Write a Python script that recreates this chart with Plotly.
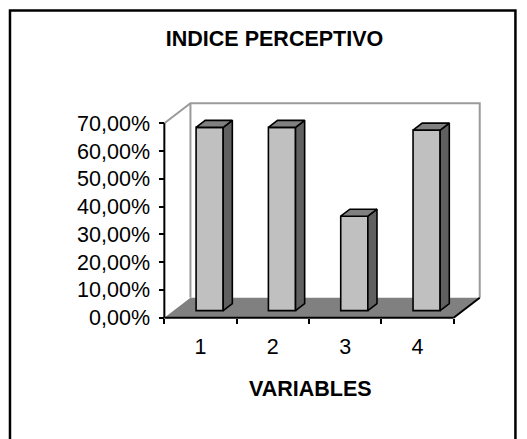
import plotly.graph_objects as go

# Data
categories = [1, 2, 3, 4]
tick_labels = ["1", "2", "3", "4"]
values = [0.66, 0.66, 0.34, 0.65]
y_ticks = [0.0, 0.1, 0.2, 0.3, 0.4, 0.5, 0.6, 0.7]

# Oblique 3-D look: depth offset of the back wall, in axis units
DEPTH_X = 0.361
DEPTH_Y = 0.072
Y_MAX = 0.7
X_LO, X_HI = 0.5, 4.5
BAR_W = 0.375
BAR_FRONT = 0.35   # fraction of depth where the bar front face sits
BAR_BACK = 0.70    # fraction of depth where the bar back face sits

FRONT = "#c0c0c0"
SIDE = "#606060"
TOP = "#808080"
FLOOR = "#808080"
WALL = "#9a9a9a"
FONT = "Liberation Sans"

xr = [0.44, 4.92]
yr = [-0.012, 0.78]
x_pos = (0 - yr[0]) / (yr[1] - yr[0])
y_pos = (X_LO - xr[0]) / (xr[1] - xr[0])

fig = go.Figure()

fx = BAR_FRONT * DEPTH_X
fy = BAR_FRONT * DEPTH_Y
dx = (BAR_BACK - BAR_FRONT) * DEPTH_X
dy = (BAR_BACK - BAR_FRONT) * DEPTH_Y

# Front faces of the bars
fig.add_trace(go.Bar(
    x=[c + fx for c in categories], y=values, base=fy, width=BAR_W,
    marker=dict(color=FRONT, line=dict(color="black", width=1.6)),
    hoverinfo="skip", showlegend=False,
))

# Side and top faces
for c, v in zip(categories, values):
    xl = c + fx - BAR_W / 2
    xr_ = c + fx + BAR_W / 2
    top = fy + v
    fig.add_trace(go.Scatter(
        x=[xr_, xr_ + dx, xr_ + dx, xr_, xr_],
        y=[fy, fy + dy, top + dy, top, fy],
        mode="lines", fill="toself", fillcolor=SIDE,
        line=dict(color="black", width=1.6), hoverinfo="skip", showlegend=False,
    ))
    fig.add_trace(go.Scatter(
        x=[xl, xr_, xr_ + dx, xl + dx, xl],
        y=[top, top, top + dy, top + dy, top],
        mode="lines", fill="toself", fillcolor=TOP,
        line=dict(color="black", width=1.6), hoverinfo="skip", showlegend=False,
    ))

shapes = []
# Floor
shapes.append(dict(
    type="path", xref="x", yref="y", layer="below",
    path=f"M {X_LO},0 L {X_HI},0 L {X_HI + DEPTH_X},{DEPTH_Y} L {X_LO + DEPTH_X},{DEPTH_Y} Z",
    fillcolor=FLOOR, line=dict(width=0),
))
# Back wall edges
shapes.append(dict(
    type="path", xref="x", yref="y", layer="below",
    path=(f"M {X_LO},{Y_MAX} L {X_LO + DEPTH_X},{Y_MAX + DEPTH_Y} "
          f"L {X_HI + DEPTH_X},{Y_MAX + DEPTH_Y} L {X_HI + DEPTH_X},{DEPTH_Y}"),
    line=dict(color=WALL, width=2),
))
shapes.append(dict(
    type="line", xref="x", yref="y", layer="below",
    x0=X_LO + DEPTH_X, y0=DEPTH_Y, x1=X_LO + DEPTH_X, y1=Y_MAX + DEPTH_Y,
    line=dict(color=WALL, width=2),
))
# Axis lines
shapes.append(dict(type="line", xref="x", yref="y", x0=X_LO, y0=0, x1=X_LO, y1=Y_MAX,
                   line=dict(color="black", width=2)))
shapes.append(dict(type="line", xref="x", yref="y", x0=X_LO, y0=0, x1=X_HI, y1=0,
                   line=dict(color="black", width=2)))
shapes.append(dict(type="line", xref="x", yref="y", x0=X_HI, y0=0,
                   x1=X_HI + DEPTH_X, y1=DEPTH_Y, line=dict(color="black", width=2)))
# Chart frame
shapes.append(dict(type="rect", xref="paper", yref="paper",
                   x0=-0.463, x1=1.097, y0=-0.65, y1=1.411,
                   line=dict(color="black", width=2.5)))

fig.update_layout(
    width=527, height=439,
    margin=dict(l=160, r=43, t=101, b=118),
    paper_bgcolor="white", plot_bgcolor="white",
    separators=",.",
    showlegend=False,
    shapes=shapes,
    title=dict(text="INDICE PERCEPTIVO", x=0.521, y=0.912, xanchor="center",
               yanchor="middle", font=dict(family=FONT, size=21.5, color="black", weight="bold")),
    xaxis=dict(range=xr, tickvals=categories, ticktext=tick_labels, ticks="",
               showgrid=False, zeroline=False, showline=False,
               anchor="free", position=x_pos, ticklabelstandoff=14,
               tickfont=dict(family=FONT, size=21.5, color="black")),
    xaxis2=dict(range=xr, overlaying="x", anchor="free", position=x_pos,
                tickvals=[X_LO + i for i in range(5)], ticks="outside", ticklen=5,
                tickwidth=1.5, tickcolor="black", showticklabels=False,
                showgrid=False, zeroline=False, showline=False),
    yaxis=dict(range=yr, tickvals=y_ticks, tickformat=".2%", ticks="outside",
               ticklen=5, tickwidth=1.5, tickcolor="black",
               showgrid=False, zeroline=False, showline=False,
               anchor="free", position=y_pos, ticklabelstandoff=5,
               tickfont=dict(family=FONT, size=21.5, color="black")),
    annotations=[dict(text="VARIABLES", xref="paper", yref="paper", x=0.466, y=-0.309,
                      xanchor="center", yanchor="middle", showarrow=False,
                      font=dict(family=FONT, size=21.5, color="black", weight="bold"))],
)

# invisible trace so the boundary-tick axis is rendered
fig.add_trace(go.Scatter(x=[X_LO], y=[0], xaxis="x2", mode="markers",
                         marker=dict(opacity=0), hoverinfo="skip", showlegend=False))

fig.write_html("out.html")
